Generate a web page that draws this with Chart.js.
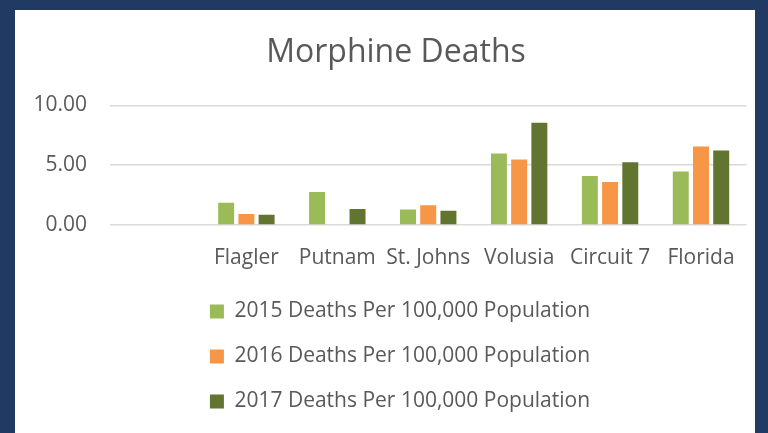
<!DOCTYPE html>
<html>
<head>
<meta charset="utf-8">
<script src="https://cdn.jsdelivr.net/npm/chart.js@4.4.0/dist/chart.umd.min.js"></script>
<style>
  html, body { margin: 0; padding: 0; }
  body { width: 768px; height: 433px; background: #213a63; overflow: hidden; position: relative; }
  #panel { position: absolute; left: 15px; top: 10px; width: 740px; height: 423px; background: #ffffff; }
</style>
</head>
<body>
<div id="panel"><canvas id="chart" width="740" height="423"></canvas></div>
<script>
// Data
const categories = ["", "Flagler", "Putnam", "St. Johns", "Volusia", "Circuit 7", "Florida"]
const deaths2015 = [null, 1.87, 2.76, 1.29, 5.97, 4.09, 4.48]
const deaths2016 = [null, 0.91, 0, 1.66, 5.47, 3.59, 6.57]
const deaths2017 = [null, 0.85, 1.33, 1.19, 8.54, 5.25, 6.22]
const seriesLabels = [
  "2015 Deaths Per 100,000 Population",
  "2016 Deaths Per 100,000 Population",
  "2017 Deaths Per 100,000 Population",
]
const yTicks = [0, 5, 10]

const textColor = "#595959"
const fontFamily = "'Open Sans', sans-serif"

// nudge title and legend a little right, like the original slide
const shiftBoxes = {
  id: "shiftBoxes",
  afterLayout(chart) {
    chart.legend.left += 18
    chart.legend.right += 18
    chart.titleBlock.left += 14
    chart.titleBlock.right += 14
  },
}

const ctx = document.getElementById("chart").getContext("2d")

new Chart(ctx, {
  type: "bar",
  data: {
    labels: categories,
    datasets: [
      { label: seriesLabels[0], data: deaths2015, backgroundColor: "#9bbb59" },
      { label: seriesLabels[1], data: deaths2016, backgroundColor: "#f79646" },
      { label: seriesLabels[2], data: deaths2017, backgroundColor: "#627530" },
    ],
  },
  plugins: [shiftBoxes],
  options: {
    responsive: false,
    animation: false,
    categoryPercentage: 0.667,
    barPercentage: 0.79,
    layout: {
      padding: { left: 0, right: 6, top: 0, bottom: 11 },
    },
    plugins: {
      title: {
        display: true,
        text: "Morphine Deaths",
        color: textColor,
        font: { family: fontFamily, size: 32, weight: "normal" },
        padding: { top: 24, bottom: 33 },
      },
      legend: {
        position: "bottom",
        labels: {
          color: textColor,
          font: { family: fontFamily, size: 21 },
          boxWidth: 14,
          boxHeight: 14,
          padding: 24,
        },
      },
      tooltip: { enabled: false },
    },
    scales: {
      x: {
        grid: { display: false, drawTicks: false },
        border: { display: false },
        afterFit: (axis) => {
          axis.height = 52
        },
        ticks: {
          color: textColor,
          font: { family: fontFamily, size: 21 },
          padding: 20,
          autoSkip: false,
          maxRotation: 0,
          minRotation: 0,
        },
      },
      y: {
        min: 0,
        max: 10,
        afterBuildTicks: (axis) => {
          axis.ticks = yTicks.map((v) => ({ value: v }))
        },
        afterFit: (axis) => {
          axis.width = 95
        },
        grid: { color: "#d9d9d9", lineWidth: 1.5, drawTicks: false },
        border: { display: false },
        ticks: {
          color: textColor,
          font: { family: fontFamily, size: 21 },
          padding: 23,
          callback: (v) => Number(v).toFixed(2),
        },
      },
    },
  },
})
</script>
</body>
</html>
